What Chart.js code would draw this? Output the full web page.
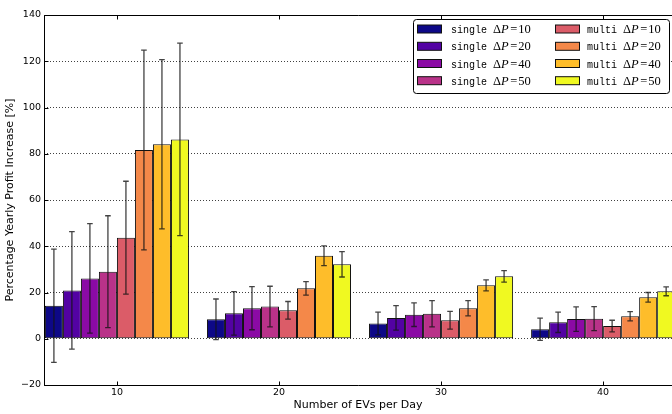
<!DOCTYPE html>
<html><head><meta charset="utf-8">
<script src="https://cdn.jsdelivr.net/npm/chart.js@4.4.0/dist/chart.umd.min.js"></script>
<style>html,body{margin:0;padding:0;background:#fff;}#wrap{width:672px;height:414px;}</style>
</head><body><div id="wrap"><canvas id="c" width="672" height="414"></canvas></div>
<script>
// ---- data ----
const categories = [10, 20, 30, 40];
const xTickValues = [10, 20, 30, 40];
const yTickValues = [-20, 0, 20, 40, 60, 80, 100, 120, 140];
const seriesLabels = ['single ΔP=10', 'single ΔP=20', 'single ΔP=40', 'single ΔP=50',
                      'multi ΔP=10', 'multi ΔP=20', 'multi ΔP=40', 'multi ΔP=50'];
const singleDP10 = [14.3, 8.4, 6.6, 4.1];
const singleDP20 = [20.9, 11.0, 9.0, 7.1];
const singleDP40 = [26.1, 13.2, 10.4, 8.5];
const singleDP50 = [29.0, 13.9, 10.8, 8.7];
const multiDP10  = [43.7, 12.3, 8.0, 5.5];
const multiDP20  = [81.6, 21.8, 13.2, 9.7];
const multiDP40  = [84.1, 35.9, 23.1, 17.9];
const multiDP50  = [86.2, 32.2, 27.0, 20.5];
const singleDP10Err = [24.5, 8.8, 4.9, 4.8];
const singleDP20Err = [25.4, 9.4, 5.3, 4.4];
const singleDP40Err = [23.7, 9.3, 5.1, 5.3];
const singleDP50Err = [24.2, 8.8, 5.7, 5.2];
const multiDP10Err  = [24.4, 3.8, 3.8, 2.5];
const multiDP20Err  = [43.2, 2.9, 3.3, 2.0];
const multiDP40Err  = [36.6, 4.3, 2.4, 2.1];
const multiDP50Err  = [41.6, 5.5, 2.5, 1.9];

const seriesValues = [singleDP10, singleDP20, singleDP40, singleDP50, multiDP10, multiDP20, multiDP40, multiDP50];
const seriesErrors = [singleDP10Err, singleDP20Err, singleDP40Err, singleDP50Err, multiDP10Err, multiDP20Err, multiDP40Err, multiDP50Err];
const seriesColors = ['#0d0887', '#5302a3', '#8b0aa5', '#b93289', '#db5c68', '#f48849', '#febd2a', '#f0f921'];

const datasets = seriesLabels.map((label, k) => ({
  label,
  data: categories.map((x, i) => ({x, y: seriesValues[k][i]})),
  errors: seriesErrors[k],
  backgroundColor: seriesColors[k],
  borderColor: '#111',
  borderWidth: 1,
  borderSkipped: false
}));

const errorBars = {
  id: 'errorBars',
  afterDatasetsDraw(chart) {
    const ctx = chart.ctx, ys = chart.scales.y, a = chart.chartArea;
    ctx.save();
    ctx.beginPath(); ctx.rect(a.left, a.top, a.right - a.left, a.bottom - a.top); ctx.clip();
    ctx.strokeStyle = 'rgba(20,20,20,0.8)';
    ctx.lineWidth = 1.3;
    chart.data.datasets.forEach((ds, di) => {
      const meta = chart.getDatasetMeta(di);
      meta.data.forEach((bar, i) => {
        const v = ds.data[i].y, e = ds.errors[i];
        const yt = ys.getPixelForValue(v + e), yb = ys.getPixelForValue(v - e);
        const x = bar.x, c = 2.8;
        ctx.beginPath();
        ctx.moveTo(x, yt); ctx.lineTo(x, yb);
        ctx.moveTo(x - c, yt); ctx.lineTo(x + c, yt);
        ctx.moveTo(x - c, yb); ctx.lineTo(x + c, yb);
        ctx.stroke();
      });
    });
    ctx.restore();
  }
};

const frame = {
  id: 'frame',
  afterDraw(chart) {
    const ctx = chart.ctx, a = chart.chartArea, xs = chart.scales.x, ys = chart.scales.y;
    ctx.save();
    ctx.strokeStyle = '#000';
    ctx.lineWidth = 1;
    const L = Math.round(a.left) + 0.5, T = Math.round(a.top) + 0.5, B = Math.round(a.bottom) + 0.5, R = a.right;
    ctx.beginPath();
    ctx.moveTo(R, T); ctx.lineTo(L, T); ctx.lineTo(L, B); ctx.lineTo(R, B);
    ys.ticks.forEach(t => { const y = Math.round(ys.getPixelForValue(t.value)) + 0.5; ctx.moveTo(L, y); ctx.lineTo(L + 4, y); });
    xs.ticks.forEach(t => { const x = Math.round(xs.getPixelForValue(t.value)) + 0.5; ctx.moveTo(x, B); ctx.lineTo(x, B - 4); ctx.moveTo(x, T); ctx.lineTo(x, T + 4); });
    ctx.stroke();
    ctx.restore();
  }
};

function drawEntryText(ctx, label, x, y) {
  const parts = label.split(' ');
  const mode = parts[0], rest = parts[1];
  const num = rest.split('=')[1];
  ctx.textBaseline = 'alphabetic';
  ctx.textAlign = 'left';
  ctx.fillStyle = '#000';
  ctx.font = '10px "Liberation Mono"';
  ctx.fillText(mode, x, y);
  x += ctx.measureText(mode).width + 6;
  ctx.font = '12.5px "Liberation Serif"';
  ctx.fillText('Δ', x, y); x += ctx.measureText('Δ').width;
  ctx.font = 'italic 12.5px "Liberation Serif"';
  ctx.fillText('P', x, y); x += ctx.measureText('P').width + 1.5;
  ctx.font = '12.5px "Liberation Serif"';
  ctx.fillText('=', x, y); x += ctx.measureText('=').width + 1;
  ctx.fillText(num, x, y);
}

const insideLegend = {
  id: 'insideLegend',
  afterDraw(chart) {
    const ctx = chart.ctx;
    const box = {x: 413.5, y: 19.5, w: 256, h: 74};
    ctx.save();
    ctx.fillStyle = '#fff';
    ctx.strokeStyle = '#000';
    ctx.lineWidth = 1;
    ctx.beginPath();
    ctx.roundRect(box.x, box.y, box.w, box.h, 3);
    ctx.fill(); ctx.stroke();
    const ds = chart.data.datasets;
    const rowY = [29, 46.3, 63.5, 80.7];
    const colX = [417.5, 555.5];
    const textX = [451, 587];
    ds.forEach((d, k) => {
      const col = Math.floor(k / 4), row = k % 4;
      ctx.fillStyle = d.backgroundColor;
      ctx.strokeStyle = '#111';
      ctx.fillRect(colX[col], rowY[row] - 4, 24, 8);
      ctx.strokeRect(colX[col], rowY[row] - 4, 24, 8);
      drawEntryText(ctx, d.label, textX[col], rowY[row] + 4);
    });
    ctx.restore();
  }
};

new Chart(document.getElementById('c'), {
  type: 'bar',
  data: {datasets},
  plugins: [errorBars, frame, insideLegend],
  options: {
    responsive: false,
    animation: false,
    events: [],
    layout: {padding: {top: 15, right: 0, left: 0, bottom: 0}},
    plugins: {legend: {display: false}, tooltip: {enabled: false}},
    datasets: {bar: {categoryPercentage: 8 / 9, barPercentage: 1, grouped: true}},
    scales: {
      x: {
        type: 'linear', min: 5.5, max: 44.25, offset: false,
        grid: {display: false, drawTicks: false},
        border: {display: false},
        afterBuildTicks: s => { s.ticks = xTickValues.map(v => ({value: v})); },
        ticks: {padding: 2, color: '#000', font: {family: 'DejaVu Sans', size: 9.5},
                callback: v => String(v)},
        title: {display: true, text: 'Number of EVs per Day', color: '#000',
                font: {family: 'DejaVu Sans', size: 11}, padding: {top: 0, bottom: 2}},
        afterFit: s => { s.height = 29; }
      },
      y: {
        type: 'linear', min: -20, max: 140,
        grid: {color: 'rgba(0,0,0,0.75)', lineWidth: 1, drawTicks: false},
        border: {display: false, dash: [1, 2]},
        afterBuildTicks: s => { s.ticks = yTickValues.map(v => ({value: v})); },
        ticks: {padding: 3, color: '#000', font: {family: 'DejaVu Sans', size: 9.5},
                callback: v => String(v).replace('-', '\u2212')},
        title: {display: true, text: 'Percentage Yearly Profit Increase [%]', color: '#000',
                font: {family: 'DejaVu Sans', size: 11}, padding: {top: 4, bottom: 0}},
        afterFit: s => { s.width = 44; }
      }
    }
  }
});
</script>
</body></html>
